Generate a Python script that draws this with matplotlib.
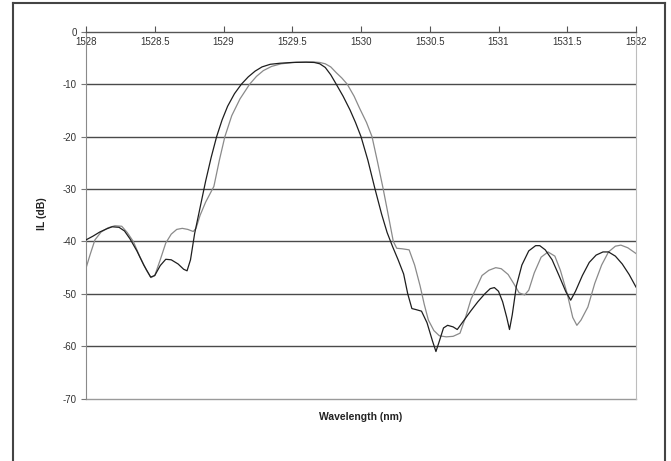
import matplotlib
matplotlib.use("Agg")
import matplotlib.pyplot as plt
from matplotlib.lines import Line2D

plt.rcParams['font.family'] = ['Liberation Sans', 'DejaVu Sans']

# Dark trace (wavelength nm, IL dB)
dark_wl = [1528.000, 1528.05, 1528.10, 1528.15, 1528.19, 1528.24, 1528.28, 1528.32,
           1528.37, 1528.42, 1528.47, 1528.50, 1528.54, 1528.58, 1528.62, 1528.67,
           1528.71, 1528.735, 1528.76, 1528.79, 1528.83, 1528.87, 1528.91, 1528.95,
           1528.99, 1529.03, 1529.08, 1529.13, 1529.18, 1529.23, 1529.28, 1529.34,
           1529.41, 1529.50, 1529.60, 1529.66, 1529.70, 1529.74, 1529.78, 1529.82,
           1529.87, 1529.92, 1529.96, 1530.00, 1530.05, 1530.10, 1530.15, 1530.19,
           1530.23, 1530.27, 1530.31, 1530.34, 1530.37, 1530.40, 1530.44, 1530.48,
           1530.52, 1530.545, 1530.57, 1530.60, 1530.63, 1530.67, 1530.70, 1530.75,
           1530.80, 1530.85, 1530.90, 1530.94, 1530.97, 1531.00, 1531.03, 1531.06,
           1531.08, 1531.10, 1531.13, 1531.17, 1531.22, 1531.27, 1531.30, 1531.34,
           1531.39, 1531.44, 1531.49, 1531.525, 1531.56, 1531.61, 1531.66, 1531.71,
           1531.76, 1531.80, 1531.85, 1531.90, 1531.95, 1532.00]
dark_il = [-39.7, -39.0, -38.2, -37.6, -37.2, -37.3, -38.0, -39.5,
           -41.8, -44.5, -46.8, -46.5, -44.6, -43.4, -43.5, -44.3,
           -45.3, -45.6, -43.5, -38.5, -33.5, -28.5, -24.0, -20.0,
           -16.8, -14.2, -11.8, -10.0, -8.6, -7.5, -6.7, -6.2,
           -6.0, -5.85, -5.8, -5.85, -6.1, -6.8, -8.2, -10.0,
           -12.3, -14.9, -17.3, -20.0, -24.5, -29.8, -34.8, -38.3,
           -41.0, -43.5, -46.2, -50.0, -52.8, -53.0, -53.3, -55.5,
           -59.0, -61.0, -59.0, -56.5, -56.0, -56.3, -56.8, -55.0,
           -53.2, -51.5, -50.0, -49.0, -48.8, -49.5, -51.5, -54.5,
           -56.8, -54.0, -48.5, -44.5, -41.8, -40.8, -40.8, -41.6,
           -43.5, -46.5, -49.6, -51.2, -49.5, -46.5, -44.0, -42.6,
           -42.0, -42.0, -42.8, -44.3, -46.3, -48.7]

# Light trace
light_wl = [1528.000, 1528.03, 1528.065, 1528.11, 1528.16, 1528.21, 1528.26, 1528.30,
            1528.344, 1528.39, 1528.44, 1528.473, 1528.50, 1528.54, 1528.58, 1528.62,
            1528.66, 1528.70, 1528.74, 1528.78, 1528.80, 1528.83, 1528.87, 1528.93,
            1528.97, 1529.01, 1529.06, 1529.12, 1529.19, 1529.24, 1529.29, 1529.35,
            1529.42, 1529.53, 1529.65, 1529.70, 1529.74, 1529.78, 1529.82, 1529.86,
            1529.90, 1529.95, 1529.99, 1530.04, 1530.08, 1530.12, 1530.16, 1530.20,
            1530.235, 1530.26, 1530.30, 1530.35, 1530.39, 1530.43, 1530.46, 1530.49,
            1530.53, 1530.57, 1530.62, 1530.67, 1530.72, 1530.76, 1530.80, 1530.84,
            1530.88, 1530.93, 1530.98, 1531.02, 1531.07, 1531.11, 1531.15, 1531.19,
            1531.22, 1531.26, 1531.31, 1531.36, 1531.41, 1531.45, 1531.50, 1531.54,
            1531.57, 1531.60, 1531.65, 1531.70, 1531.75, 1531.80, 1531.85, 1531.89,
            1531.94, 1532.00]
light_il = [-45.1, -42.5, -39.7, -38.2, -37.4, -37.0, -37.1, -38.3,
            -40.0, -42.8, -45.5, -46.9, -46.5, -43.5, -40.3, -38.6,
            -37.7, -37.5, -37.7, -38.1, -37.5, -35.0, -32.5, -29.5,
            -24.5, -20.0, -16.0, -12.8, -10.0, -8.5, -7.4, -6.6,
            -6.1, -5.8, -5.75, -5.85, -6.1, -6.7, -7.8, -8.8,
            -10.0, -12.3, -14.6, -17.3, -20.0, -24.8, -29.8, -35.2,
            -40.0, -41.3, -41.4, -41.6, -44.5, -48.5, -52.0, -55.0,
            -57.0, -58.0, -58.2, -58.1, -57.5, -54.5, -51.0, -48.8,
            -46.5, -45.5, -45.0, -45.2, -46.3, -48.0, -49.8, -50.2,
            -49.3, -46.0, -43.0, -42.0, -42.8, -45.5, -50.0, -54.5,
            -56.0, -55.0, -52.5, -48.0, -44.5, -42.0, -40.9, -40.7,
            -41.2, -42.3]

x_ticks = [1528, 1528.5, 1529, 1529.5, 1530, 1530.5, 1531, 1531.5, 1532]
x_tick_labels = ["1528", "1528.5", "1529", "1529.5", "1530", "1530.5", "1531", "1531.5", "1532"]
y_ticks = [0, -10, -20, -30, -40, -50, -60, -70]

fig = plt.figure(figsize=(6.71, 4.61), dpi=100)
W, H = 671, 461
left, right, top, bottom = 86, 636, 31.8, 398.7
ax = fig.add_axes([left / W, 1 - bottom / H, (right - left) / W, (bottom - top) / H])

ax.plot(light_wl, light_il, color='#8a8a8a', lw=0.9, zorder=3)
ax.plot(dark_wl, dark_il, color='#1e1e1e', lw=0.9, zorder=4)

ax.set_xlim(1528, 1532)
ax.set_ylim(-70, 0)

for yv in [-10, -20, -30, -40, -50, -60]:
    ax.axhline(yv, color='#4a4a4a', lw=1.0, zorder=1)
ax.axhline(-70, color='#9a9a9a', lw=1.0, zorder=1, clip_on=False)

ax.spines['bottom'].set_position(('data', 0))
ax.spines['bottom'].set_color('#555555')
ax.spines['bottom'].set_linewidth(1.0)
ax.spines['top'].set_visible(False)
ax.spines['left'].set_color('#8a8a8a')
ax.spines['right'].set_color('#bdbdbd')

ax.set_xticks(x_ticks)
ax.set_xticklabels(x_tick_labels)
ax.set_yticks(y_ticks)
ax.set_yticklabels([str(v) for v in y_ticks])
ax.tick_params(axis='x', direction='in', length=4, width=0.8, color='#555555',
               labelsize=7, pad=4, labelcolor='#333333')
ax.tick_params(axis='y', direction='out', length=3.5, width=0.8, color='#777777',
               labelsize=7, pad=3, labelcolor='#333333')
ax.get_xticklabels()[0].set_x(1528.02)

fig.text((left + right) / 2 / W, 1 - 417 / H, "Wavelength (nm)", ha='center', va='center',
         fontsize=7.5, fontweight='bold', color='#222222')
fig.text(42 / W, 1 - 214 / H, "IL (dB)", ha='center', va='center', rotation=90,
         fontsize=7.5, fontweight='bold', color='#222222')

# outer frame
fx0, fx1, fy0 = 12.5 / W, 665 / W, 1 - 3 / H
fig.add_artist(Line2D([fx0, fx0], [0, fy0], transform=fig.transFigure, color='#444444', lw=1.5))
fig.add_artist(Line2D([fx0, fx1], [fy0, fy0], transform=fig.transFigure, color='#444444', lw=1.5))
fig.add_artist(Line2D([fx1, fx1], [0, fy0], transform=fig.transFigure, color='#444444', lw=1.5))

fig.savefig("out.png", dpi=100)
